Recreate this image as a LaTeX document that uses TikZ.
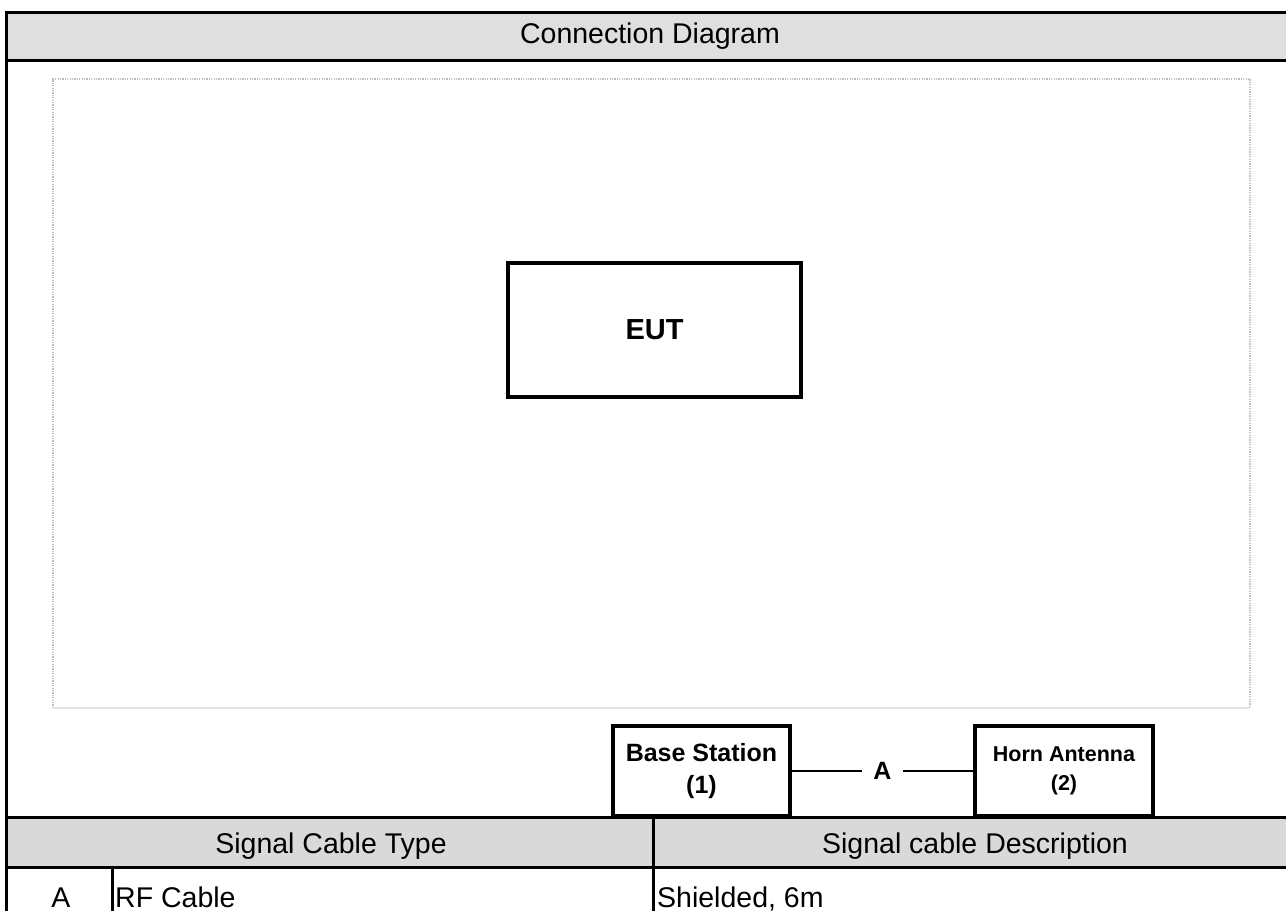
\documentclass[tikz,border=0pt]{standalone}
\usepackage{fontspec}
\setmainfont{Liberation Sans}
\begin{document}
\begin{tikzpicture}[x=1pt,y=-1pt,
  rule/.style={line width=3pt,black},
  devbox/.style={draw,line width=3.2pt,rectangle,inner sep=0pt,align=center,font=\bfseries},
  cable/.style={line width=2.8pt},
  celltext/.style={inner sep=0pt,anchor=base,font=\fontsize{28.5}{34}\selectfont},
  frame/.style={gray!50,line width=1.5pt,dash pattern=on 1.2pt off 1.2pt}]
\useasboundingbox (0,0) rectangle (1286,911);
% title band
\fill[gray!25] (6,12) rectangle (1286,60);
\fill[gray!30] (6,817) rectangle (1286,867);
\draw[rule] (6,12) -- (1286,12);
\draw[rule] (6,60) -- (1286,60);
\draw[rule] (6,10.5) -- (6,911);
\node[celltext] (title) at (650,43) {Connection Diagram};
% inner dotted frame
\draw[frame] (53,708) -- (53,79) -- (1250,79) -- (1250,708);
\draw[gray!22,line width=2pt] (53,708) -- (1250,708);
% EUT
\node[devbox,minimum width=293pt,minimum height=134pt,font=\bfseries\fontsize{29}{34}\selectfont] (eut) at (654.5,330) {EUT};
% devices
\node[devbox,minimum width=177pt,minimum height=90pt,font=\bfseries\fontsize{25}{32}\selectfont] (bs) at (701.5,771) {Base Station\\(1)};
\node[devbox,minimum width=178pt,minimum height=90pt,font=\bfseries\fontsize{21.5}{29}\selectfont] (horn) at (1064,771) {Horn Antenna\\(2)};
\node[inner sep=0pt,minimum width=41pt,font=\bfseries\fontsize{25}{30}\selectfont] (cA) at (882.5,771) {A};
\draw[cable] (bs.east) -- (cA.west);
\draw[cable] (cA.east) -- (horn.west);
% table
\draw[rule] (6,817) -- (1286,817);
\draw[rule] (6,867) -- (1286,867);
\draw[rule] (653,817) -- (653,911);
\draw[rule] (112,867) -- (112,911);
\node[celltext] (h1) at (331,853) {Signal Cable Type};
\node[celltext] (h2) at (975,853) {Signal cable Description};
\node[celltext] (r1) at (61,907) {A};
\node[celltext,anchor=base west] (r2) at (115,907) {RF Cable};
\node[celltext,anchor=base west] (r3) at (657,907) {Shielded, 6m};
\end{tikzpicture}
\end{document}
